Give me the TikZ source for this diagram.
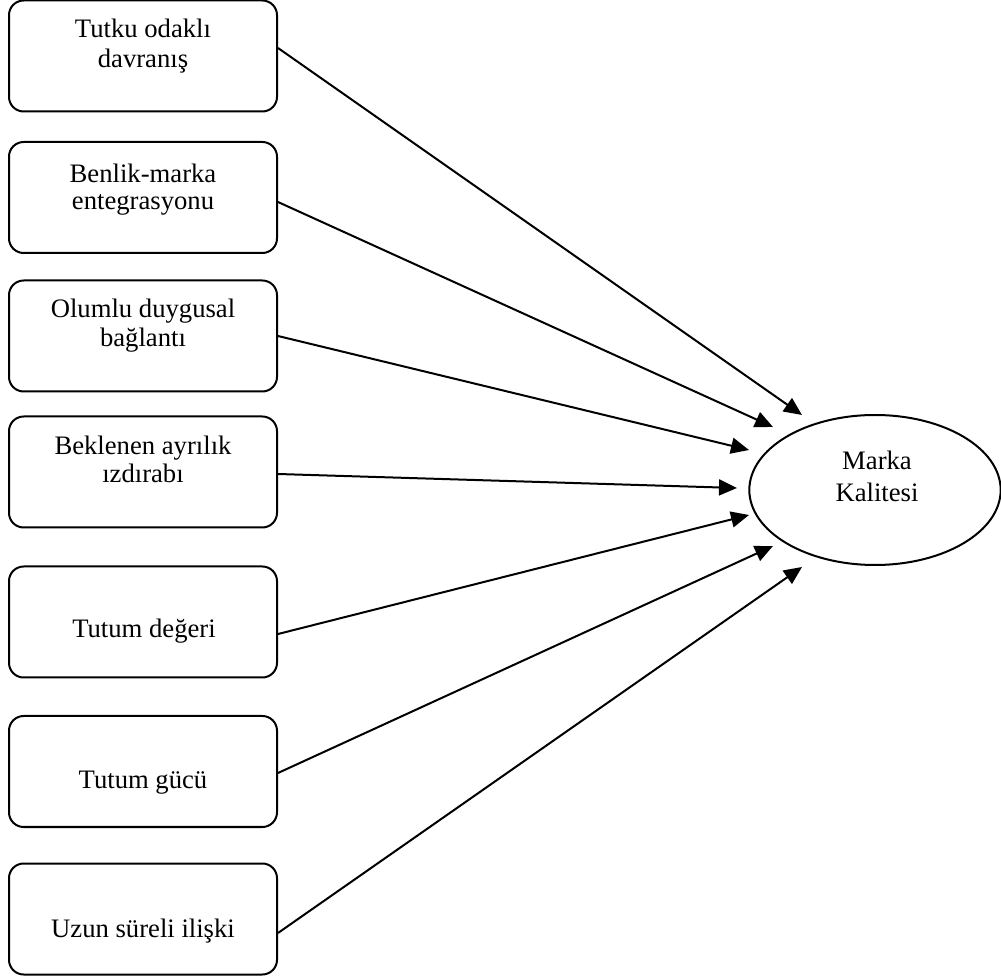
\documentclass[tikz,border=0pt]{standalone}
\usepackage{fontspec}
\setmainfont{Liberation Serif}
\usetikzlibrary{arrows.meta,shapes.geometric,calc}
\begin{document}
\begin{tikzpicture}[x=0.75pt,y=-0.75pt,
  factor/.style={draw,line width=1.5pt,rounded corners=11pt,minimum width=201pt,minimum height=83.25pt,inner sep=0pt},
  outcome/.style={draw,ellipse,line width=1.5pt,minimum width=188.5pt,minimum height=112.5pt,inner sep=0pt},
  txt/.style={anchor=base,inner sep=0pt,font=\fontsize{20pt}{23pt}\selectfont},
  link/.style={line width=1.5pt,-{Triangle[length=13.5pt,width=12pt]}}]
\useasboundingbox (0,0) rectangle (1001,980);

% antecedent boxes
\node[factor] (b1) at (143,56) {};
\node[factor] (b2) at (143,197.5) {};
\node[factor] (b3) at (143,336) {};
\node[factor] (b4) at (143,472) {};
\node[factor] (b5) at (143,622) {};
\node[factor] (b6) at (143,771.5) {};
\node[factor] (b7) at (143,919) {};

% box labels
\node[txt] (l1a) at (143,38) {Tutku odaklı};
\node[txt] (l1b) at (143,68) {davranış};
\node[txt] (l2a) at (143,183) {Benlik-marka};
\node[txt] (l2b) at (143,210) {entegrasyonu};
\node[txt] (l3a) at (143,318) {Olumlu duygusal};
\node[txt] (l3b) at (143,347) {bağlantı};
\node[txt] (l4a) at (143,455) {Beklenen ayrılık};
\node[txt] (l4b) at (143,483) {ızdırabı};
\node[txt] (l5) at (144,638) {Tutum değeri};
\node[txt] (l6) at (143,788) {Tutum gücü};
\node[txt] (l7) at (143,937) {Uzun süreli ilişki};

% outcome
\node[outcome] (mk) at (875,490) {};
\node[txt] (m1) at (877,470) {Marka};
\node[txt] (m2) at (877,502) {Kalitesi};

% arrow tips just outside the ellipse
\coordinate (t1) at ($(mk.center)+(-73,-75)$);
\coordinate (t2) at ($(mk.center)+(-102,-63)$);
\coordinate (t3) at ($(mk.center)+(-126,-40)$);
\coordinate (t4) at ($(mk.center)+(-138,-2)$);
\coordinate (t5) at ($(mk.center)+(-126,25)$);
\coordinate (t6) at ($(mk.center)+(-102,56)$);
\coordinate (t7) at ($(mk.center)+(-73,77)$);

% connectors
\draw[link] ($(b1.east)+(0,-8)$) -- (t1);
\draw[link] ($(b2.east)+(0,4.5)$) -- (t2);
\draw[link] (b3.east) -- (t3);
\draw[link] ($(b4.east)+(0,2)$) -- (t4);
\draw[link] ($(b5.east)+(0,12)$) -- (t5);
\draw[link] ($(b6.east)+(0,1.5)$) -- (t6);
\draw[link] ($(b7.east)+(0,14)$) -- (t7);
\end{tikzpicture}
\end{document}
